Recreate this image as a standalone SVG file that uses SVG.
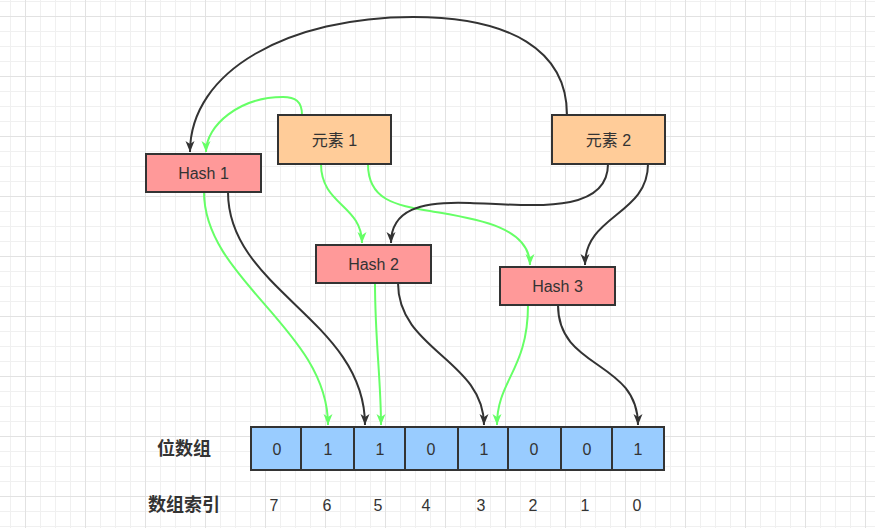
<svg xmlns="http://www.w3.org/2000/svg" width="875" height="528" viewBox="0 0 875 528">
<defs>
<pattern id="gMinor" patternUnits="userSpaceOnUse" x="10" y="1" width="15" height="15">
<rect x="0" y="0" width="1" height="15" fill="#f0f0f0"/>
<rect x="0" y="0" width="15" height="1" fill="#f0f0f0"/>
</pattern>
<pattern id="gMajor" patternUnits="userSpaceOnUse" x="25" y="16" width="60" height="60">
<rect x="0" y="0" width="1" height="60" fill="#e2e2e2"/>
<rect x="0" y="0" width="60" height="1" fill="#e2e2e2"/>
</pattern>
<marker id="arrK" markerUnits="userSpaceOnUse" markerWidth="12" markerHeight="10" refX="11" refY="4.5" orient="auto">
<path d="M0,0 L11,4.5 L0,9 L3,4.5 z" fill="#333333"/>
</marker>
<marker id="arrG" markerUnits="userSpaceOnUse" markerWidth="12" markerHeight="10" refX="11" refY="4.5" orient="auto">
<path d="M0,0 L11,4.5 L0,9 L3,4.5 z" fill="#66ff66"/>
</marker>
<style>
.hash rect{fill:#ff9999;stroke:#333333;stroke-width:2}
.elem rect{fill:#ffcc99;stroke:#333333;stroke-width:2}
.cell{fill:#99ccff;stroke:#333333;stroke-width:2}
.t{font-family:"Liberation Sans","Noto Sans CJK SC",sans-serif;font-size:16px;fill:#333333;text-anchor:middle;dominant-baseline:central}
.lbl{font-family:"Liberation Sans","Noto Sans CJK SC",sans-serif;font-size:18px;font-weight:bold;fill:#333333;text-anchor:middle;dominant-baseline:central}
.k{fill:none;stroke:#333333;stroke-width:2;marker-end:url(#arrK)}
.g{fill:none;stroke:#66ff66;stroke-width:2;marker-end:url(#arrG)}
</style>
</defs>
<rect width="875" height="528" fill="#ffffff"/>
<rect width="875" height="528" fill="url(#gMinor)"/>
<rect width="875" height="528" fill="url(#gMajor)"/>

<g id="connectors">
<path class="k" d="M567,115 C567,50 510,17 413,17 C290,17 190,70 190,152"/>
<path class="g" d="M302,115 C302,101 295,97 283,97 C240,97 206,125 206,152"/>
<path class="g" d="M321,164 C321,205 362,205 362,243"/>
<path class="g" d="M368,164 C368,200 395,205 430,211 C470,218 530,225 530,265"/>
<path class="k" d="M608,164 C608,215 530,205 470,203 C420,201 391,210 391,243"/>
<path class="k" d="M648,164 C648,215 585,215 585,265"/>
<path class="g" d="M204,192 C204,280 328,330 328,425"/>
<path class="k" d="M228,192 C228,290 365,320 365,425"/>
<path class="g" d="M375,283 C375,340 381,380 381,425"/>
<path class="k" d="M398,283 C398,350 484,360 484,425"/>
<path class="g" d="M528,305 C528,370 497,380 497,425"/>
<path class="k" d="M558,305 C558,370 638,360 638,425"/>
</g>

<g id="elem1" class="elem"><rect x="278" y="115" width="113" height="49"/><text class="t" x="334.5" y="140">元素 1</text></g>
<g id="elem2" class="elem"><rect x="552" y="115" width="113" height="49"/><text class="t" x="608.5" y="140">元素 2</text></g>
<g id="hash1" class="hash"><rect x="146" y="154" width="115" height="38"/><text class="t" x="203.5" y="173">Hash 1</text></g>
<g id="hash2" class="hash"><rect x="316" y="245" width="115" height="38"/><text class="t" x="373.5" y="264">Hash 2</text></g>
<g id="hash3" class="hash"><rect x="500" y="267" width="115" height="38"/><text class="t" x="557.5" y="286">Hash 3</text></g>

<g id="bitarray">
<rect class="cell" x="251" y="427" width="50" height="43"/>
<rect class="cell" x="301" y="427" width="53" height="43"/>
<rect class="cell" x="354" y="427" width="51" height="43"/>
<rect class="cell" x="405" y="427" width="53" height="43"/>
<rect class="cell" x="458" y="427" width="50" height="43"/>
<rect class="cell" x="508" y="427" width="53" height="43"/>
<rect class="cell" x="561" y="427" width="51" height="43"/>
<rect class="cell" x="612" y="427" width="52" height="43"/>
<text class="t" x="277" y="449">0</text>
<text class="t" x="328" y="449">1</text>
<text class="t" x="380" y="449">1</text>
<text class="t" x="431" y="449">0</text>
<text class="t" x="484" y="449">1</text>
<text class="t" x="534" y="449">0</text>
<text class="t" x="587" y="449">0</text>
<text class="t" x="638" y="449">1</text>
</g>
<g id="label-bits"><text class="lbl" x="184" y="449">位数组</text></g>
<g id="label-index">
<text class="lbl" x="184" y="505">数组索引</text>
<text class="t" x="274" y="505">7</text>
<text class="t" x="327" y="505">6</text>
<text class="t" x="378" y="505">5</text>
<text class="t" x="426" y="505">4</text>
<text class="t" x="481" y="505">3</text>
<text class="t" x="533" y="505">2</text>
<text class="t" x="585" y="505">1</text>
<text class="t" x="637" y="505">0</text>
</g>
</svg>
